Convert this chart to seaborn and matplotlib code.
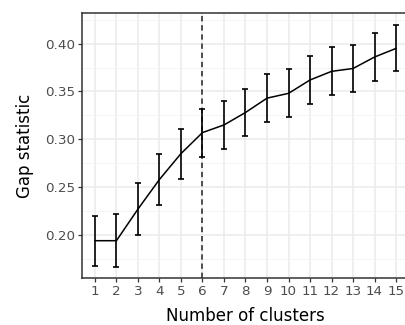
import numpy as np
import pandas as pd
import matplotlib
matplotlib.use("Agg")
import matplotlib.pyplot as plt
import seaborn as sns
from matplotlib.ticker import MultipleLocator

# gap statistic per number of clusters
clusters = list(range(1, 16))
gap = [0.194, 0.194, 0.227, 0.258, 0.285, 0.307, 0.315, 0.328,
       0.343, 0.348, 0.362, 0.371, 0.374, 0.386, 0.395]
gap_se = [0.026, 0.028, 0.027, 0.027, 0.026, 0.025, 0.025, 0.025,
          0.025, 0.025, 0.025, 0.025, 0.025, 0.025, 0.024]
best_k = 6

df = pd.DataFrame({"k": clusters, "gap": gap, "se": gap_se})

sns.set_theme(style="white")
plt.rcParams["font.family"] = ["DejaVu Sans"]

fig = plt.figure(figsize=(4.06, 3.25), dpi=100)
ax = fig.add_axes([82 / 406, 47 / 325, 327 / 406, 265 / 325])

# grid like ggplot theme_bw
ax.set_xlim(0.4, 15.6)
ax.set_ylim(0.155, 0.432)
ax.set_xticks(clusters)
ax.yaxis.set_major_locator(MultipleLocator(0.05))
ax.yaxis.set_minor_locator(MultipleLocator(0.025))
ax.grid(which="major", color="#ebebeb", linewidth=1.1)
ax.grid(which="minor", axis="y", color="#f2f2f2", linewidth=0.6)
ax.set_axisbelow(True)

ax.axvline(best_k, color="#222222", linestyle=(0, (3.5, 2.5)), linewidth=1.1)

sns.lineplot(data=df, x="k", y="gap", color="black", linewidth=1.1, ax=ax)
ax.errorbar(df["k"], df["gap"], yerr=df["se"], fmt="none", ecolor="black",
            elinewidth=1.2, capsize=2, capthick=1.2)

ax.set_yticklabels([f"{t:.2f}" for t in ax.get_yticks()])
ax.tick_params(axis="both", which="major", labelsize=9.7, labelcolor="#4d4d4d",
               length=3, width=0.9, color="#333333", pad=2, bottom=True, left=True)
ax.tick_params(axis="y", which="minor", length=0)

for side in ["left", "bottom", "top", "right"]:
    ax.spines[side].set_color("#333333")
    ax.spines[side].set_linewidth(1.1)

ax.set_xlabel("Number of clusters", fontsize=12, labelpad=6.5, color="black")
ax.set_ylabel("Gap statistic", fontsize=12, labelpad=8, color="black")

fig.savefig("out.png", dpi=100)
